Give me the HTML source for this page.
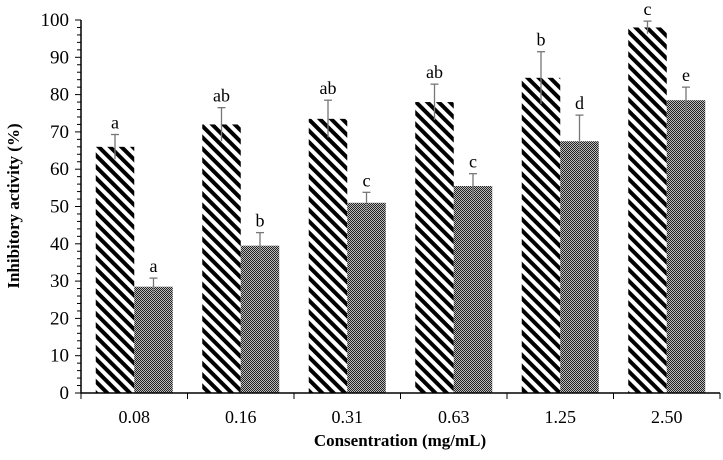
<!DOCTYPE html>
<html><head><meta charset="utf-8"><style>body{margin:0;background:#fff}svg{display:block;font-family:"Liberation Serif",serif}</style></head>
<body>
<svg id="chart" width="723" height="460" viewBox="0 0 723 460" xmlns="http://www.w3.org/2000/svg">
<defs>
<pattern id="stripe" patternUnits="userSpaceOnUse" width="8" height="8" patternTransform="rotate(45)">
<rect width="8" height="8" fill="#fff"/><rect x="0" y="0" width="8" height="4" fill="#000"/>
</pattern>
<pattern id="check" patternUnits="userSpaceOnUse" width="2" height="2">
<rect width="2" height="2" fill="#bbb"/><rect width="1" height="1" fill="#222"/><rect x="1" y="1" width="1" height="1" fill="#222"/>
</pattern>
</defs>
<g id="plot"></g>
<text x="400" y="446" text-anchor="middle" font-size="17" font-weight="bold">Consentration (mg/mL)</text>
<text transform="translate(19,206) rotate(-90)" text-anchor="middle" font-size="17" font-weight="bold">Inhibitory  activity (%)</text>
</svg>
<script>
const categories=["0.08","0.16","0.31","0.63","1.25","2.50"];
const series1=[66,72,73.5,78,84.5,98];
const series2=[28.5,39.5,51,55.5,67.5,78.5];
const err1=[3.3,4.5,5,4.8,7,1.7];
const err2=[2.3,3.5,2.8,3.3,7,3.5];
const letters1=["a","ab","ab","ab","b","c"];
const letters2=["a","b","c","c","d","e"];
const yTicks=[0,10,20,30,40,50,60,70,80,90,100];
const NS="http://www.w3.org/2000/svg";
const g=document.getElementById('plot');
const x0=81,x1=720,yb=393,yt=20;
const catW=(x1-x0)/categories.length;
const y=v=>yb-(v/100)*(yb-yt);
function mk(t,a,p){const e=document.createElementNS(NS,t);for(const k in a)e.setAttribute(k,a[k]);(p||g).appendChild(e);return e;}
let ax=mk('line',{x1:x0,y1:yt,x2:x0,y2:yb,stroke:'#000','stroke-width':1.5});


for(let v=0;v<=100;v+=2){mk('line',{x1:x0-(v%10==0?6:4),y1:y(v),x2:x0,y2:y(v),stroke:'#000','stroke-width':1});}
yTicks.forEach(v=>{const t=mk('text',{x:x0-12,y:y(v)+6,'text-anchor':'end','font-size':19});t.textContent=v;

});
categories.forEach((c,i)=>{
 const cx=x0+catW*(i+0.5),bw=38.5;
 [[series1,err1,letters1,'url(#stripe)',-1],[series2,err2,letters2,'url(#check)',0]].forEach((s,k)=>{
  const v=s[0][i],e=s[1][i],bx=cx+s[4]*bw;
  const r=mk('rect',{x:bx,y:y(v),width:bw,height:yb-y(v),fill:s[3]});
  
  
  const mx=bx+bw/2;
  mk('line',{x1:mx,y1:y(v-e),x2:mx,y2:y(v+e),stroke:'#777','stroke-width':1.3});
  mk('line',{x1:mx-4,y1:y(v+e),x2:mx+4,y2:y(v+e),stroke:'#777','stroke-width':1.3});
  const t=mk('text',{x:mx,y:y(v+e)-6,'text-anchor':'middle','font-size':18});t.textContent=s[2][i];
  
  
 });
 const lab=mk('text',{x:cx,y:yb+30,'text-anchor':'middle','font-size':18});lab.textContent=c;
 
 
});
for(let i=0;i<=categories.length;i++){const xx=x0+catW*i;mk('line',{x1:xx,y1:yb,x2:xx,y2:yb+6,stroke:'#000','stroke-width':1});}
let xa=mk('line',{x1:x0,y1:yb,x2:x1,y2:yb,stroke:'#000','stroke-width':1.5});


</script>
</body></html>
